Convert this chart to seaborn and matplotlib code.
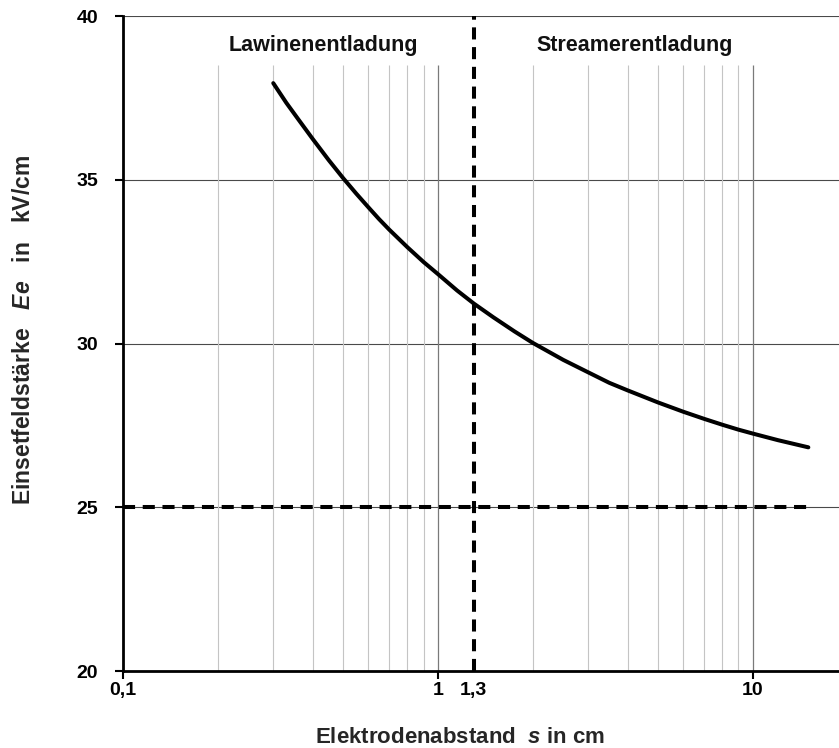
import numpy as np
import pandas as pd
import matplotlib
matplotlib.use('Agg')
import matplotlib.pyplot as plt
import seaborn as sns

# curve: electrode gap s (cm) vs. inception field Ee (kV/cm)
abstand = [0.3, 0.33, 0.36, 0.4, 0.45, 0.5, 0.55, 0.6, 0.65, 0.7, 0.8, 0.9, 1.0, 1.15, 1.3,
           1.5, 1.75, 2.0, 2.5, 3.0, 3.5, 4.0, 5.0, 6.0, 7.0, 8.0, 9.0, 10.0, 12.0, 15.0]
feld = [37.95, 37.35, 36.85, 36.25, 35.6, 35.05, 34.58, 34.17, 33.8, 33.48, 32.94, 32.49, 32.12,
        31.62, 31.22, 30.8, 30.37, 30.02, 29.5, 29.12, 28.8, 28.57, 28.2, 27.92, 27.7, 27.52,
        27.37, 27.25, 27.05, 26.83]

grenze_s = 1.3          # boundary avalanche / streamer
asymptote = 25          # dashed horizontal limit
asym_x = [0.1, 15.0]

x_ticks = [0.1, 1, 1.3, 10]
x_ticklabels = ['0,1', '1', '1,3', '10']
y_ticks = [20, 25, 30, 35, 40]
minor_x = [0.2, 0.3, 0.4, 0.5, 0.6, 0.7, 0.8, 0.9, 2, 3, 4, 5, 6, 7, 8, 9]
major_x = [1, 10]

bereiche = ['Lawinenentladung', 'Streamerentladung']
bereich_x = [0.434, 4.22]

sns.set_theme(style='white')
plt.rcParams['font.family'] = ['Liberation Sans', 'DejaVu Sans']
plt.rcParams['font.weight'] = 'bold'
plt.rcParams['mathtext.fontset'] = 'custom'
plt.rcParams['mathtext.it'] = 'Liberation Sans:italic:bold'
plt.rcParams['mathtext.rm'] = 'Liberation Sans:bold'

fig = plt.figure(figsize=(8.39, 7.48), dpi=100)
ax = fig.add_axes([0.1466, 0.1029, 1.002 - 0.1466, 0.9786 - 0.1029])

ax.set_xscale('log')
ax.set_xlim(0.1, 19)
ax.set_ylim(20, 40)

# grid: horizontal full width, vertical ones stop below the region labels
for y in y_ticks[1:]:
    ax.axhline(y, color='#4a4a4a', lw=0.8, zorder=1)
ax.vlines(minor_x, 20, 38.5, colors='#c4c4c4', lw=0.8, zorder=1)
ax.vlines(major_x, 20, 38.5, colors='#7a7a7a', lw=0.9, zorder=1)

df = pd.DataFrame({'s': abstand, 'E': feld})
sns.lineplot(data=df, x='s', y='E', color='black', lw=2.9, ax=ax, zorder=4)

sns.lineplot(x=asym_x, y=[asymptote, asymptote], color='black', lw=2.9,
             ax=ax, zorder=3).lines[-1].set_dashes((3, 1.9))
ax.axvline(grenze_s, color='black', lw=2.9, dashes=(3, 1.9), zorder=3)

for name, xpos in zip(bereiche, bereich_x):
    ax.text(xpos, 39.1, name, ha='center', va='center', fontsize=15.5,
            fontweight='bold', color='#111111')

ax.set_xticks(x_ticks)
ax.set_xticklabels(x_ticklabels, fontsize=14, fontweight='bold')
ax.xaxis.set_minor_locator(matplotlib.ticker.NullLocator())
ax.set_yticks(y_ticks)
ax.set_yticklabels([str(v) for v in y_ticks], fontsize=14, fontweight='bold')
ax.tick_params(axis='x', which='major', bottom=True, direction='out', length=6, width=1.5,
               pad=2, colors='black')
ax.tick_params(axis='y', which='major', left=True, direction='out', length=6, width=1.5,
               pad=12, colors='black')
ax.tick_params(axis='x', which='minor', length=0)
# no tick mark under the 1,3 label
ax.xaxis.get_major_ticks()[2].tick1line.set_visible(False)

for side in ['top', 'right']:
    ax.spines[side].set_visible(False)
for side in ['left', 'bottom']:
    ax.spines[side].set_color('black')
    ax.spines[side].set_linewidth(2)

ax.set_xlabel(r'Elektrodenabstand  $\mathit{s}$ in cm', fontsize=16, fontweight='bold')
ax.set_ylabel(r'Einsetfeldstärke   $\mathit{Ee}$   in   kV/cm', fontsize=16.5, fontweight='bold')
ax.xaxis.set_label_coords(0.47, -0.085)
ax.yaxis.set_label_coords(-0.122, 0.52)

fig.savefig('out.png', dpi=100)
